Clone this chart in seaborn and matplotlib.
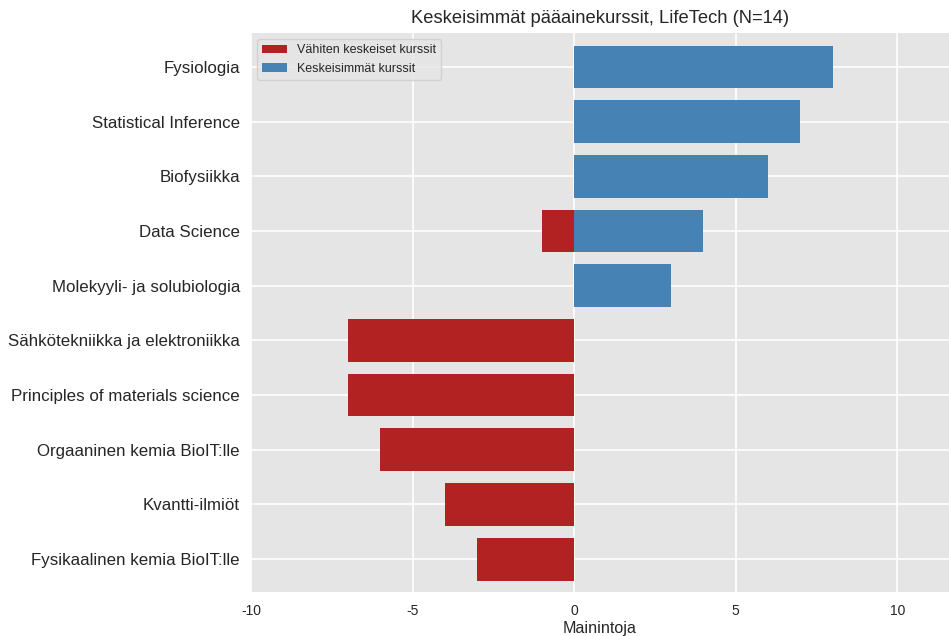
import matplotlib
matplotlib.use("Agg")
import matplotlib.pyplot as plt
import seaborn as sns
import pandas as pd

courses = ["Fysiologia", "Statistical Inference", "Biofysiikka", "Data Science",
           "Molekyyli- ja solubiologia", "Sähkötekniikka ja elektroniikka",
           "Principles of materials science", "Orgaaninen kemia BioIT:lle",
           "Kvantti-ilmiöt", "Fysikaalinen kemia BioIT:lle"]
least_central = [0, 0, 0, -1, 0, -7, -7, -6, -4, -3]
most_central = [8, 7, 6, 4, 3, 0, 0, 0, 0, 0]
series_names = ["Vähiten keskeiset kurssit", "Keskeisimmät kurssit"]
title = "Keskeisimmät pääainekurssit, LifeTech (N=14)"
xlabel = "Mainintoja"

df = pd.DataFrame({
    "course": courses * 2,
    "value": least_central + most_central,
    "series": [series_names[0]] * len(courses) + [series_names[1]] * len(courses),
})

sns.set_style("darkgrid", {"axes.facecolor": "#E5E5E5", "grid.color": "white"})
plt.rcParams["font.family"] = ["Liberation Sans", "DejaVu Sans"]
plt.rcParams["axes.unicode_minus"] = False

fig = plt.figure(figsize=(9.49, 6.36), dpi=100)
ax = fig.add_axes([0.2645, 0.0692, 0.7355, 0.8789])
sns.barplot(data=df, x="value", y="course", hue="series", dodge=False,
            palette={series_names[0]: "#B22222", series_names[1]: "#4682B4"},
            order=courses, hue_order=series_names, width=0.78, saturation=1,
            linewidth=0, ax=ax)

ax.set_xticks([-10, -5, 0, 5, 10])
ax.set_xlim(-10, 11.6)
ax.set_ylim(9.6, -0.62)
ax.tick_params(axis="y", labelsize=12.2, colors="#262626", length=0, pad=8)
ax.tick_params(axis="x", labelsize=10, colors="#262626", length=0, pad=9)
ax.set_xlabel(xlabel, fontsize=11.6, color="#262626", labelpad=2)
ax.set_ylabel("")
ax.set_title(title, fontsize=13.2, color="#262626", pad=7)
ax.grid(True, color="white", linewidth=1.2)
ax.set_axisbelow(True)
for s in ax.spines.values():
    s.set_visible(False)
leg = ax.legend(loc="upper left", fontsize=9, frameon=True, facecolor="#E5E5E5",
                edgecolor="#CCCCCC")
fig.savefig("out.png", dpi=100)
